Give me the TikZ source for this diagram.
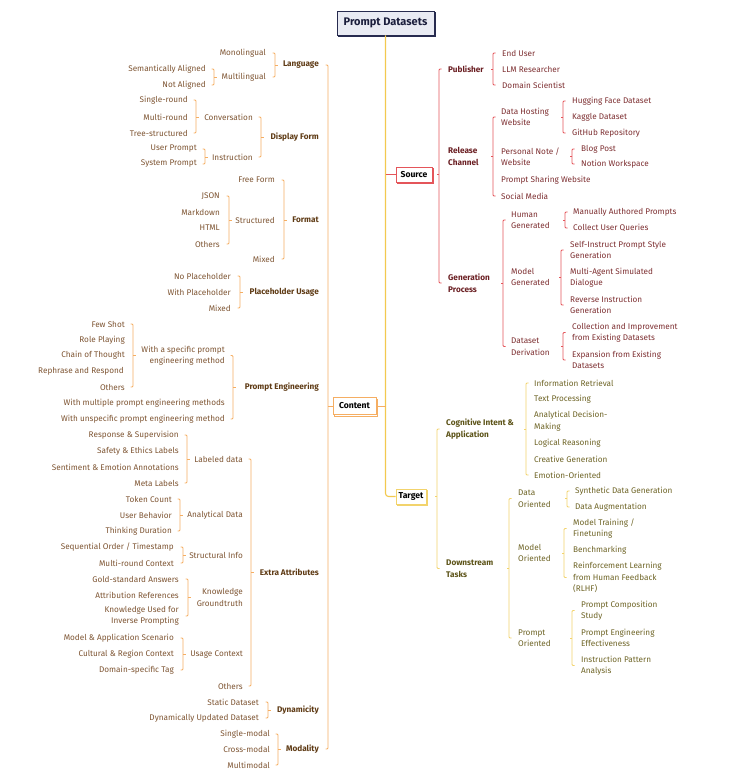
\documentclass[tikz,border=0pt]{standalone}
\usepackage{fontspec}
\setmainfont{Fira Sans}
\usetikzlibrary{calc,shadows}
\definecolor{cLine}{HTML}{F5AE63}
\definecolor{cText}{HTML}{7E5533}
\definecolor{cBold}{HTML}{5E3A14}
\definecolor{sLine}{HTML}{E4555A}
\definecolor{sText}{HTML}{7D2F31}
\definecolor{sBold}{HTML}{6A1E22}
\definecolor{tLine}{HTML}{F2D36C}
\definecolor{tText}{HTML}{6E6426}
\definecolor{tBold}{HTML}{5C5318}
\definecolor{trunkC}{HTML}{F3C94F}
\definecolor{rootFill}{HTML}{E9EBF3}
\definecolor{rootDraw}{HTML}{272B4F}
\definecolor{rootText}{HTML}{1B1E3C}
\newcommand{\ftreg}{\fontsize{8.2}{11.5}\selectfont}
\newcommand{\ftbold}{\fontsize{8.2}{11.5}\selectfont\bfseries}
\newcommand{\lbrk}[5]{%
  \draw[#1,rounded corners=1pt] ($(#2.east)+(#5-2.5,0)$) -- ($(#2.east)+(#5,0)$) -- ($(#3.east)+(#5,0)$) -- ($(#3.east)+(#5-2.5,0)$);
  \draw[#1] ($(#2.east |- #4.west)+(#5,0)$) -- ++(2.5,0);}
\newcommand{\rbrk}[5]{%
  \draw[#1,rounded corners=1pt] ($(#2.west)+(-#5+2.5,0)$) -- ($(#2.west)+(-#5,0)$) -- ($(#3.west)+(-#5,0)$) -- ($(#3.west)+(-#5+2.5,0)$);
  \draw[#1] ($(#2.west |- #4.east)+(-#5,0)$) -- ++(-2.5,0);}
\tikzset{
  base/.style={inner sep=0pt, font=\ftreg},
  cL/.style={base, anchor=east, align=right, text=cText},
  cB/.style={cL, font=\ftbold, text=cBold},
  sR/.style={base, anchor=west, align=left, text=sText},
  sB/.style={sR, font=\ftbold, text=sBold},
  tR/.style={base, anchor=west, align=left, text=tText},
  tB/.style={tR, font=\ftbold, text=tBold},
  cline/.style={draw=cLine, line width=0.75pt},
  sline/.style={draw=sLine, line width=0.75pt},
  tline/.style={draw=tLine, line width=0.75pt},
  trunk/.style={draw=trunkC, line width=1.1pt},
  box/.style={fill=white, line width=0.8pt, inner sep=0pt, font=\fontsize{8.6}{10}\selectfont\bfseries, text=black,
    copy shadow={shadow xshift=1.8pt, shadow yshift=-1.8pt}},
  rootbox/.style={box, fill=rootFill, draw=rootDraw, text=rootText, font=\fontsize{11}{13}\selectfont\bfseries,
    minimum width=97pt, minimum height=24pt}
}
\begin{document}
\begin{tikzpicture}[x=1pt,y=-1pt]
\useasboundingbox (0,0) rectangle (733,775);
% ---- central boxes ----
\node[rootbox] (root) at (385.5,23) {Prompt Datasets};
\node[box, draw=sLine, minimum width=36pt, minimum height=15pt] (source) at (414,174.5) {Source};
\node[box, draw=cLine, minimum width=43pt, minimum height=17pt] (content) at (354.5,406) {Content};
\node[box, draw=tLine, minimum width=30pt, minimum height=15pt] (target) at (411,496.5) {Target};
\draw[trunk, rounded corners=3pt] (root.south) -- (root.south |- target.west) -- (target.west);
\draw[sline] (root.south |- source.west) -- (source.west);
\draw[cline] (root.south |- content.east) -- (content.east);

% ---- Content (left) ----
\node[cB] (lang) at (319,65) {Language};
\node[cL] (mono) at (266,53) {Monolingual};
\node[cL] (multi) at (266,77) {Multilingual};
\node[cL] (sem) at (206,69) {Semantically Aligned};
\node[cL] (nota) at (206,85) {Not Aligned};
\node[cB] (disp) at (319,137) {Display Form};
\node[cL] (conv) at (253,117) {Conversation};
\node[cL] (instr) at (253,157) {Instruction};
\node[cL] (single) at (188,100) {Single-round};
\node[cL] (multir) at (188,117) {Multi-round};
\node[cL] (tree) at (188,133) {Tree-structured};
\node[cL] (user) at (197,149) {User Prompt};
\node[cL] (sys) at (197,164) {System Prompt};
\node[cB] (fmt) at (319,220) {Format};
\node[cL] (free) at (275,180) {Free Form};
\node[cL] (struct) at (275,220) {Structured};
\node[cL] (fmix) at (275,259) {Mixed};
\node[cL] (json) at (220,196) {JSON};
\node[cL] (md) at (220,212) {Markdown};
\node[cL] (html) at (220,228) {HTML};
\node[cL] (fothers) at (220,244) {Others};
\node[cB] (ph) at (319,292) {Placeholder Usage};
\node[cL] (noph) at (231,276) {No Placeholder};
\node[cL] (withph) at (231,292) {With Placeholder};
\node[cL] (phmix) at (231,308) {Mixed};
\node[cB] (pe) at (319,387) {Prompt Engineering};
\node[cL] (spec) at (225,355.5) {With a specific prompt\\engineering method};
\node[cL] (multpe) at (225,403) {With multiple prompt engineering methods};
\node[cL] (unspec) at (225,419) {With unspecific prompt engineering method};
\node[cL] (few) at (125,324) {Few Shot};
\node[cL] (role) at (125,340) {Role Playing};
\node[cL] (cot) at (125,355) {Chain of Thought};
\node[cL] (reph) at (124,371) {Rephrase and Respond};
\node[cL] (peoth) at (125,387) {Others};
\node[cB] (extra) at (319,572) {Extra Attributes};
\node[cL] (lab) at (243,459) {Labeled data};
\node[cL] (anal) at (243,515) {Analytical Data};
\node[cL] (strinfo) at (243,555) {Structural Info};
\node[cL] (know) at (243,597.5) {Knowledge\\Groundtruth};
\node[cL] (usage) at (243,654) {Usage Context};
\node[cL] (eoth) at (243,686) {Others};
\node[cL] (resp) at (179,435) {Response \& Supervision};
\node[cL] (safe) at (179,451) {Safety \& Ethics Labels};
\node[cL] (senti) at (179,467) {Sentiment \& Emotion Annotations};
\node[cL] (meta) at (179,483) {Meta Labels};
\node[cL] (token) at (172,499) {Token Count};
\node[cL] (userb) at (172,515) {User Behavior};
\node[cL] (think) at (172,531) {Thinking Duration};
\node[cL] (seq) at (174,547) {Sequential Order / Timestamp};
\node[cL] (mrc) at (174,563) {Multi-round Context};
\node[cL] (gold) at (179,579) {Gold-standard Answers};
\node[cL] (attr) at (179,595) {Attribution References};
\node[cL] (kinv) at (179,616) {Knowledge Used for\\Inverse Prompting};
\node[cL] (mas) at (174,638) {Model \& Application Scenario};
\node[cL] (cult) at (174,654) {Cultural \& Region Context};
\node[cL] (dom) at (174,670) {Domain-specific Tag};
\node[cB] (dyn) at (319,710) {Dynamicity};
\node[cL] (static) at (259,702) {Static Dataset};
\node[cL] (dynup) at (259,718) {Dynamically Updated Dataset};
\node[cB] (moda) at (319,749) {Modality};
\node[cL] (smod) at (270,734) {Single-modal};
\node[cL] (cmod) at (270,749) {Cross-modal};
\node[cL] (mmod) at (270,765) {Multimodal};

\draw[cline,rounded corners=1pt] ($(lang.east)+(6.5,0)$) -- ($(lang.east)+(9,0)$) -- ($(moda.east)+(9,0)$) -- ($(moda.east)+(6.5,0)$);
\draw[cline] ($(lang.east |- content.west)+(9,0)$) -- (content.west);
\lbrk{cline}{mono}{multi}{lang}{9}
\lbrk{cline}{sem}{nota}{multi}{8}
\lbrk{cline}{conv}{instr}{disp}{8}
\lbrk{cline}{single}{tree}{conv}{8}
\lbrk{cline}{user}{sys}{instr}{8}
\lbrk{cline}{free}{fmix}{fmt}{9}
\lbrk{cline}{json}{fothers}{struct}{9}
\lbrk{cline}{noph}{phmix}{ph}{9}
\lbrk{cline}{spec}{unspec}{pe}{8}
\lbrk{cline}{few}{peoth}{spec}{8}
\lbrk{cline}{lab}{eoth}{extra}{8}
\lbrk{cline}{resp}{meta}{lab}{8}
\lbrk{cline}{token}{think}{anal}{8}
\lbrk{cline}{seq}{mrc}{strinfo}{9}
\lbrk{cline}{gold}{kinv}{know}{9}
\lbrk{cline}{mas}{dom}{usage}{9}
\lbrk{cline}{static}{dynup}{dyn}{9}
\lbrk{cline}{smod}{mmod}{moda}{8}

% ---- Source (right) ----
\node[sB] (pub) at (448,69) {Publisher};
\node[sR] (enduser) at (502,53) {End User};
\node[sR] (llm) at (502,69) {LLM Researcher};
\node[sR] (domsci) at (502,85) {Domain Scientist};
\node[sB] (rel) at (448,156.5) {Release\\Channel};
\node[sR] (dh) at (501,117) {Data Hosting\\Website};
\node[sR] (pn) at (501,156.5) {Personal Note /\\Website};
\node[sR] (psw) at (501,180) {Prompt Sharing Website};
\node[sR] (social) at (501,196) {Social Media};
\node[sR] (hf) at (572,101) {Hugging Face Dataset};
\node[sR] (kag) at (572,117) {Kaggle Dataset};
\node[sR] (gh) at (572,133) {GitHub Repository};
\node[sR] (blog) at (581,149) {Blog Post};
\node[sR] (notion) at (581,164) {Notion Workspace};
\node[sB] (gen) at (448,283) {Generation\\Process};
\node[sR] (hg) at (511,220) {Human\\Generated};
\node[sR] (mg) at (511,277) {Model\\Generated};
\node[sR] (dd) at (511,346.5) {Dataset\\Derivation};
\node[sR] (man) at (573,212) {Manually Authored Prompts};
\node[sR] (coll) at (573,228) {Collect User Queries};
\node[sR] (self) at (570,250) {Self-Instruct Prompt Style\\Generation};
\node[sR] (magent) at (570,277.5) {Multi-Agent Simulated\\Dialogue};
\node[sR] (rev) at (570,305) {Reverse Instruction\\Generation};
\node[sR] (colimp) at (572,332.5) {Collection and Improvement\\from Existing Datasets};
\node[sR] (expn) at (572,360) {Expansion from Existing\\Datasets};

\rbrk{sline}{pub}{gen}{source}{9}
\rbrk{sline}{enduser}{domsci}{pub}{9}
\rbrk{sline}{dh}{social}{rel}{8}
\rbrk{sline}{hf}{gh}{dh}{9}
\rbrk{sline}{blog}{notion}{pn}{9}
\rbrk{sline}{hg}{dd}{gen}{8}
\rbrk{sline}{man}{coll}{hg}{8}
\rbrk{sline}{self}{rev}{mg}{9}
\rbrk{sline}{colimp}{expn}{dd}{9}

% ---- Target (right) ----
\node[tB] (cog) at (446,429) {Cognitive Intent \&\\Application};
\node[tR] (ir) at (534,383) {Information Retrieval};
\node[tR] (tp) at (534,399) {Text Processing};
\node[tR] (adm) at (534,421) {Analytical Decision-\\Making};
\node[tR] (lr) at (534,443) {Logical Reasoning};
\node[tR] (cg) at (534,459) {Creative Generation};
\node[tR] (eo) at (534,475) {Emotion-Oriented};
\node[tB] (down) at (446,568.5) {Downstream\\Tasks};
\node[tR] (dor) at (518,498.5) {Data\\Oriented};
\node[tR] (mor) at (518,553) {Model\\Oriented};
\node[tR] (por) at (518,638) {Prompt\\Oriented};
\node[tR] (syn) at (575,491) {Synthetic Data Generation};
\node[tR] (aug) at (575,507) {Data Augmentation};
\node[tR] (mt) at (573,528.5) {Model Training /\\Finetuning};
\node[tR] (bench) at (573,550) {Benchmarking};
\node[tR] (rlhf) at (573,577.5) {Reinforcement Learning\\from Human Feedback\\(RLHF)};
\node[tR] (pcs) at (581,610.5) {Prompt Composition\\Study};
\node[tR] (pee) at (581,638) {Prompt Engineering\\Effectiveness};
\node[tR] (ipa) at (581,665.5) {Instruction Pattern\\Analysis};

\rbrk{tline}{cog}{down}{target}{9}
\rbrk{tline}{ir}{eo}{cog}{8}
\rbrk{tline}{dor}{por}{down}{9}
\rbrk{tline}{syn}{aug}{dor}{8}
\rbrk{tline}{mt}{rlhf}{mor}{9}
\rbrk{tline}{pcs}{ipa}{por}{9}
\end{tikzpicture}
\end{document}
